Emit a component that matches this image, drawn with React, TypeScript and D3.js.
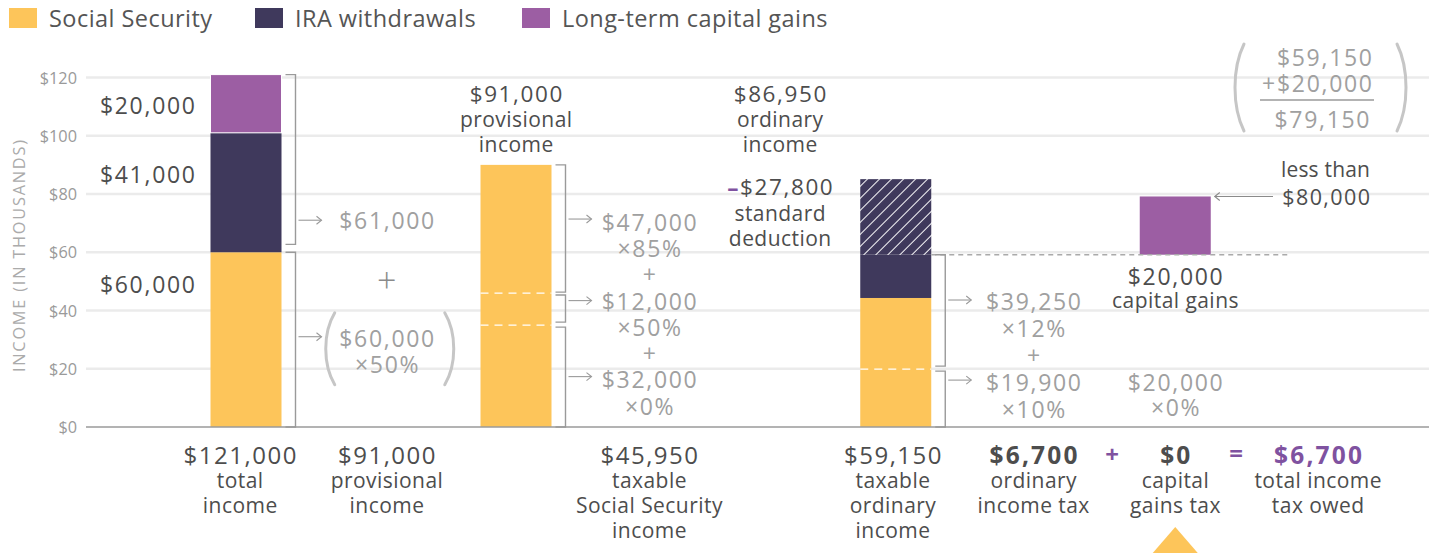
import React from 'react';
import * as d3 from 'd3';

// ---------- DATA (values in thousands of dollars) ----------
const legendLabels = ['Social Security', 'IRA withdrawals', 'Long-term capital gains'];
const seriesKeys = ['ss', 'ira', 'ltcg'];
const yTicks = [0, 20, 40, 60, 80, 100, 120];
const columns = ['total', 'provCalc', 'provBar', 'ssCalc', 'ordText', 'ordBar', 'ordCalc', 'capBar', 'totalTax'];

const totalIncomeStack = [
  { key: 'ss', from: 0, to: 60 },
  { key: 'ira', from: 60, to: 101 },
  { key: 'ltcg', from: 101, to: 121 },
];
const provisionalStack = [{ key: 'ss', from: 0, to: 90 }];
const provisionalSplits = [35, 46];
const ordinaryStack = [
  { key: 'ss', from: 0, to: 44.3 },
  { key: 'ira', from: 44.3, to: 59.15 },
  { key: 'deduction', from: 59.15, to: 85.1 },
];
const ordinarySplits = [19.9];
const capGainsStack = [{ key: 'ltcg', from: 59.15, to: 79.15 }];
const taxableLine = 59.15;

const leftValueLabels = [
  { value: 110.5, text: '$20,000' },
  { value: 87, text: '$41,000' },
  { value: 49, text: '$60,000' },
];

// brackets: [top, bottom, arrowAt]
const bar1Brackets = [[121, 62.7, 71], [60, 0, 31]];
const bar2Brackets = [[90, 46.3, 71.4], [45.3, 36, 43.4], [34.3, 0, 17.3]];
const bar3Brackets = [[59.15, 20.9, 43.6], [19.2, 0, 16.1]];

const provCalcTop = '$61,000';
const provCalcParen = ['$60,000', '×50%'];
const ssCalcLines = ['$47,000', '×85%', '+', '$12,000', '×50%', '+', '$32,000', '×0%'];
const ordCalcLines = ['$39,250', '×12%', '+', '$19,900', '×10%'];
const capCalcLines = ['$20,000', '×0%'];
const sumLines = ['$59,150', '+$20,000', '$79,150'];

const bottomLabels = [
  { col: 'total', value: '$121,000', lines: ['total', 'income'], bold: false, purple: false },
  { col: 'provCalc', value: '$91,000', lines: ['provisional', 'income'], bold: false, purple: false },
  { col: 'ssCalc', value: '$45,950', lines: ['taxable', 'Social Security', 'income'], bold: false, purple: false },
  { col: 'ordBar', value: '$59,150', lines: ['taxable', 'ordinary', 'income'], bold: false, purple: false },
  { col: 'ordCalc', value: '$6,700', lines: ['ordinary', 'income tax'], bold: true, purple: false },
  { col: 'capBar', value: '$0', lines: ['capital', 'gains tax'], bold: true, purple: false },
  { col: 'totalTax', value: '$6,700', lines: ['total income', 'tax owed'], bold: true, purple: true },
];

// ---------- STYLE ----------
const colors: Record<string, string> = {
  ss: '#FDC55A',
  ira: '#3F395C',
  ltcg: '#9C5EA3',
  deduction: '#3F395C',
};
const DARK = '#4d4d4d';
const GRAY = '#a0a0a0';
const PURPLE = '#7f52a0';
const FONT = "'Open Sans', 'Noto Sans', sans-serif";

const W = 1439;
const H = 558;
const nudge: Record<string, number> = {
  total: 6, provCalc: 12, provBar: 6.5, ssCalc: 5, ordText: 1, ordBar: -18, ordCalc: -15, capBar: -8, totalTax: 0,
};

type TProps = {
  x: number; y: number; size: number; ls?: number; anchor?: string; fill?: string; weight?: number; children: React.ReactNode;
};
function T({ x, y, size, ls = 0, anchor = 'middle', fill = DARK, weight = 400, children }: TProps) {
  // compensate trailing letter-spacing for anchored text
  const dx = anchor === 'middle' ? ls / 2 : anchor === 'end' ? ls : 0;
  return (
    <text
      x={x + dx}
      y={y}
      textAnchor={anchor as any}
      dominantBaseline="central"
      fontSize={size}
      letterSpacing={ls}
      fill={fill}
      fontWeight={weight}
    >
      {children}
    </text>
  );
}

export default function App() {
  const y = d3.scaleLinear().domain([0, 120]).range([427, 77.5]);
  const xp = d3.scalePoint<string>().domain(columns).range([240, 1318]);
  const cx = (c: string) => (xp(c) as number) + nudge[c];
  const barW = 71;
  const gridX0 = 86;
  const gridX1 = 1429;

  const NUM = { size: 23, ls: 1.7 };
  const SUB = { size: 21, ls: 0.45 };

  const renderStack = (col: string, stack: { key: string; from: number; to: number }[]) =>
    stack.map((s, i) => (
      <rect
        key={col + i}
        x={cx(col) - barW / 2}
        width={barW}
        y={y(s.to)}
        height={y(s.from) - y(s.to)}
        fill={s.key === 'deduction' ? 'url(#hatch)' : colors[s.key]}
        stroke={i > 0 && s.key === 'ltcg' ? '#fff' : 'none'}
        strokeWidth={1}
      />
    ));

  const renderSplits = (col: string, splits: number[]) =>
    splits.map((v, i) => (
      <line
        key={col + 's' + i}
        x1={cx(col) - barW / 2}
        x2={cx(col) + barW / 2}
        y1={y(v)}
        y2={y(v)}
        stroke="#fff"
        strokeWidth={1.3}
        strokeDasharray="8,6"
      />
    ));

  const renderBrackets = (col: string, brackets: number[][]) => {
    const bx = cx(col) + barW / 2 + 14;
    return brackets.map((b, i) => {
      const [top, bot, ar] = b;
      const ay = y(ar);
      return (
        <g key={col + 'b' + i} fill="none" stroke="#9a9a9a" strokeWidth={1.4}>
          <path d={`M${bx - 10},${y(top)} L${bx},${y(top)} L${bx},${y(bot)} L${bx - 10},${y(bot)}`} />
          <path d={`M${bx + 3},${ay} L${bx + 26},${ay}`} strokeWidth={1.1} />
          <path d={`M${bx + 21},${ay - 4} L${bx + 26},${ay} L${bx + 21},${ay + 4}`} strokeWidth={1.1} />
        </g>
      );
    });
  };

  const paren = (px: number, top: number, bot: number, dir: number) => {
    const h = bot - top;
    const d = 12 * dir;
    return (
      <path
        d={`M${px},${top} C${px - d},${top + h * 0.28} ${px - d},${bot - h * 0.28} ${px},${bot}`}
        fill="none"
        stroke="#c6c6c6"
        strokeWidth={3}
        strokeLinecap="round"
      />
    );
  };

  const legendX = [9, 255, 522];
  const capRight = cx('capBar') + barW / 2;

  return (
    <svg width={W} height={H} style={{ display: 'block', position: 'absolute', left: 0, top: 0 }} fontFamily={FONT}>
      <defs>
        <pattern id="hatch" patternUnits="userSpaceOnUse" width={8.5} height={8.5} patternTransform="rotate(45)">
          <rect width={8.5} height={8.5} fill={colors.ira} />
          <line x1={0} y1={0} x2={0} y2={8.5} stroke="#fff" strokeWidth={2} />
        </pattern>
      </defs>
      <rect width={W} height={H} fill="#fff" />

      {/* legend */}
      {legendLabels.map((l, i) => (
        <g key={l}>
          <rect x={legendX[i]} y={8} width={28} height={20} fill={colors[seriesKeys[i]]} />
          <T x={legendX[i] + 40} y={17.5} size={23.5} ls={0.45} anchor="start" fill="#555">
            {l}
          </T>
        </g>
      ))}

      {/* grid */}
      {yTicks.map((t) => (
        <g key={t}>
          {t > 0 && <line x1={gridX0} x2={gridX1} y1={y(t)} y2={y(t)} stroke="#ebebeb" strokeWidth={2.5} />}
          <T x={77} y={y(t)} size={16.3} anchor="end" fill="#9a9a9a">
            ${t}
          </T>
        </g>
      ))}
      <text
        transform={`translate(19,${y(59)}) rotate(-90)`}
        textAnchor="middle"
        dominantBaseline="central"
        fontSize={16.3}
        letterSpacing={1.8}
        fill="#ababab"
      >
        INCOME (IN THOUSANDS)
      </text>

      {/* bars */}
      {renderStack('total', totalIncomeStack)}
      {renderStack('provBar', provisionalStack)}
      {renderSplits('provBar', provisionalSplits)}
      {renderStack('ordBar', ordinaryStack)}
      {renderSplits('ordBar', ordinarySplits)}
      {renderStack('capBar', capGainsStack)}

      {/* baseline */}
      <line x1={gridX0} x2={gridX1} y1={y(0)} y2={y(0)} stroke="#9a9a9a" strokeWidth={1.5} />

      {/* taxable dashed line */}
      <line
        x1={cx('ordBar') + barW / 2}
        x2={1291}
        y1={y(taxableLine)}
        y2={y(taxableLine)}
        stroke="#aaa"
        strokeWidth={1.5}
        strokeDasharray="5,4"
      />

      {/* left value labels */}
      {leftValueLabels.map((l) => (
        <T key={l.text} x={195} y={y(l.value)} size={NUM.size} ls={NUM.ls} anchor="end">
          {l.text}
        </T>
      ))}

      {/* brackets */}
      {renderBrackets('total', bar1Brackets)}
      {renderBrackets('provBar', bar2Brackets)}
      {renderBrackets('ordBar', bar3Brackets)}

      {/* provisional calc */}
      <T x={cx('provCalc')} y={y(71)} size={NUM.size} ls={NUM.ls} fill={GRAY}>{provCalcTop}</T>
      <T x={cx('provCalc')} y={y(50.5)} size={34} weight={300} fill="#8a8a8a">+</T>
      {provCalcParen.map((t, i) => (
        <T key={t} x={cx('provCalc')} y={y(30.5) + i * 26} size={NUM.size} ls={NUM.ls} fill={GRAY}>
          {t}
        </T>
      ))}
      {paren(cx('provCalc') - 52, y(39.2), y(14.5), 1)}
      {paren(cx('provCalc') + 58, y(39.2), y(14.5), -1)}

      {/* SS calc */}
      {ssCalcLines.map((t, i) => (
        <T key={'ss' + i} x={cx('ssCalc')} y={y(70.5) + i * 26.3} size={NUM.size} ls={NUM.ls} fill={GRAY}>
          {t}
        </T>
      ))}

      {/* ordinary calc */}
      {ordCalcLines.map((t, i) => (
        <T key={'oc' + i} x={cx('ordCalc')} y={y(43.3) + i * 27} size={NUM.size} ls={NUM.ls} fill={GRAY}>
          {t}
        </T>
      ))}

      {/* cap gains calc */}
      {capCalcLines.map((t, i) => (
        <T key={'cc' + i} x={cx('capBar')} y={y(15.5) + i * 25.5} size={NUM.size} ls={NUM.ls} fill={GRAY}>
          {t}
        </T>
      ))}
      <T x={cx('capBar')} y={y(51.7)} size={NUM.size} ls={NUM.ls}>$20,000</T>
      <T x={cx('capBar')} y={y(43.5)} size={SUB.size} ls={SUB.ls}>capital gains</T>

      {/* top labels */}
      {[
        { col: 'provBar', lines: ['$91,000', 'provisional', 'income'] },
        { col: 'ordText', lines: ['$86,950', 'ordinary', 'income'] },
      ].map((g) =>
        g.lines.map((t, i) => (
          <T
            key={g.col + t}
            x={cx(g.col)}
            y={93 + i * 25.5}
            size={i === 0 ? 22.5 : SUB.size}
            ls={i === 0 ? 1.6 : SUB.ls}
          >
            {t}
          </T>
        ))
      )}
      <T x={cx('ordText')} y={y(82.5)} size={22.5} ls={1.6}>
        <tspan fill={PURPLE} fontWeight={700}>–</tspan>$27,800
      </T>
      <T x={cx('ordText')} y={y(82.5) + 26} size={SUB.size} ls={SUB.ls}>standard</T>
      <T x={cx('ordText')} y={y(82.5) + 51} size={SUB.size} ls={SUB.ls}>deduction</T>

      {/* sum expression top right */}
      <T x={1372} y={57} size={NUM.size} ls={NUM.ls} anchor="end" fill={GRAY}>{sumLines[0]}</T>
      <T x={1372} y={83} size={NUM.size} ls={NUM.ls} anchor="end" fill={GRAY}>{sumLines[1]}</T>
      <line x1={1260} x2={1374} y1={100} y2={100} stroke="#9a9a9a" strokeWidth={1.3} />
      <T x={1322} y={119} size={NUM.size} ls={NUM.ls} fill={GRAY}>{sumLines[2]}</T>
      {paren(1244, 44, 131, 1)}
      {paren(1397, 44, 131, -1)}

      {/* less than 80,000 */}
      <T x={1370} y={169} size={SUB.size} ls={0.2} anchor="end">less than</T>
      <T x={1370} y={y(79.15)} size={21.5} ls={1.4} anchor="end">$80,000</T>
      <g fill="none" stroke="#8a8a8a" strokeWidth={1.1}>
        <path d={`M${1273},${y(79.15)} L${capRight + 4},${y(79.15)}`} />
        <path d={`M${capRight + 9},${y(79.15) - 4} L${capRight + 4},${y(79.15)} L${capRight + 9},${y(79.15) + 4}`} />
      </g>

      {/* bottom labels */}
      {bottomLabels.map((b) => {
        const bx = cx(b.col) + (b.col === 'total' ? -6 : b.col === 'ordBar' ? -3 : 0);
        return (
          <g key={b.col}>
            <T
              x={bx}
              y={454}
              size={b.bold ? 24.5 : 24}
              ls={b.bold ? 2.2 : 1.5}
              weight={b.bold ? 700 : 400}
              fill={b.purple ? PURPLE : DARK}
            >
              {b.value}
            </T>
            {b.lines.map((t, i) => (
              <T key={t} x={bx} y={480 + i * 25} size={SUB.size} ls={SUB.ls}>
                {t}
              </T>
            ))}
          </g>
        );
      })}
      <T x={1112} y={453} size={24} weight={700} fill={PURPLE}>+</T>
      <T x={1236} y={452} size={24} weight={700} fill={PURPLE}>=</T>

      {/* triangle marker */}
      <path
        d={`M${cx('capBar')},527 L${cx('capBar') + 22.5},553 L${cx('capBar') - 22.5},553 Z`}
        fill={colors.ss}
      />
    </svg>
  );
}
